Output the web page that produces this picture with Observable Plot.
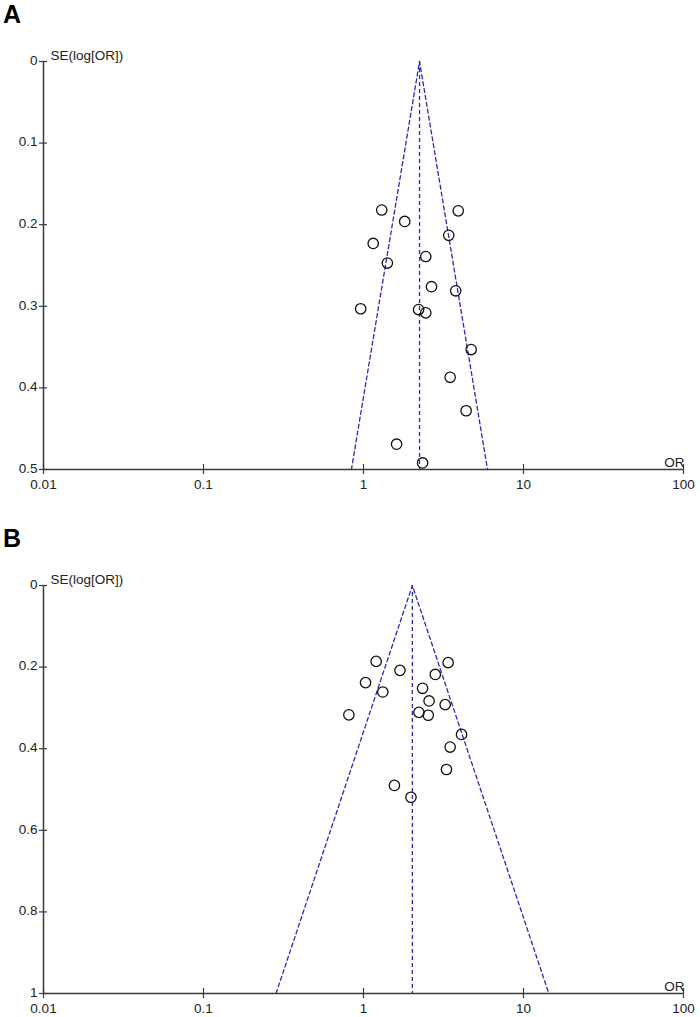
<!DOCTYPE html>
<html>
<head>
<meta charset="utf-8">
<script src="https://cdn.jsdelivr.net/npm/d3@7"></script>
<script src="https://cdn.jsdelivr.net/npm/@observablehq/plot@0.6"></script>
<style>
  html, body { margin: 0; padding: 0; background: #fff; }
  #wrap { position: relative; width: 700px; height: 1017px; font-family: "Liberation Sans", Arial, sans-serif; }
  .panel { position: absolute; left: 0; }
  .panel text { font-size: 13.5px; }
  .letter { position: absolute; left: 3px; font-weight: bold; font-size: 25px; line-height: 25px; color: #000; }
</style>
</head>
<body>
<div id="wrap"></div>
<script>
// ---- Data ----
const xTicks = [0.01, 0.1, 1, 10, 100];
const xTickLabels = ["0.01", "0.1", "1", "10", "100"];

const yTicksA = [0, 0.1, 0.2, 0.3, 0.4, 0.5];
const yTicksB = [0, 0.2, 0.4, 0.6, 0.8, 1];

// Panel A studies: odds ratio and its SE(log[OR])
const orA = [1.30, 3.91, 1.81, 3.41, 1.15, 2.45, 1.41, 2.66, 3.77, 0.96, 2.21, 2.45, 4.71, 3.48, 4.38, 1.61, 2.34];
const seA = [0.182, 0.183, 0.196, 0.213, 0.223, 0.239, 0.247, 0.276, 0.281, 0.303, 0.304, 0.308, 0.353, 0.387, 0.428, 0.469, 0.492];

// Panel B studies
const orB = [1.20, 3.38, 1.69, 2.81, 1.03, 2.34, 1.32, 2.57, 3.24, 0.81, 2.22, 2.54, 4.10, 3.48, 3.30, 1.56, 1.98];
const seB = [0.186, 0.189, 0.208, 0.218, 0.238, 0.252, 0.261, 0.283, 0.292, 0.317, 0.311, 0.318, 0.365, 0.396, 0.451, 0.490, 0.519];

// Pooled OR and funnel (pseudo 95% CI) outline: left bottom, apex, right bottom
const pooledA = 2.24;
const funnelOrA = [0.84, 2.24, 5.96];
const funnelSeA = [0.5, 0, 0.5];

const pooledB = 2.02;
const funnelOrB = [0.284, 2.02, 14.4];
const funnelSeB = [1, 0, 1];

// ---- Drawing ----
const FONT = "'Liberation Sans', Arial, sans-serif";
const AXIS = "#3a3a3a";
const BLUE = "#2a2ab4";

function panel({ors, ses, yTicks, yMax, pooled, fOr, fSe, height, marginBottom}) {
  const plotTop = 61, plotBottom = 469;
  const unitPerPx = yMax / (plotBottom - plotTop);
  const tickHalfY = 5 * unitPerPx;           // 5px in y data units
  const tickFactorX = Math.pow(10, 4 / 160);  // 4px in log-x units
  const studies = ors.map((o, i) => ({or: o, se: ses[i]}));
  const funnel = fOr.map((o, i) => ({or: o, se: fSe[i]}));
  return Plot.plot({
    width: 700,
    height,
    marginLeft: 43,
    marginRight: 17,
    marginTop: plotTop,
    marginBottom,
    style: {fontFamily: FONT, fontSize: "13.5px", color: "#222", background: "transparent", overflow: "visible"},
    x: {type: "log", domain: [0.01, 100]},
    y: {domain: [0, yMax], reverse: true},
    marks: [
      // funnel outline and pooled estimate
      Plot.line(funnel, {x: "or", y: "se", stroke: BLUE, strokeWidth: 1.3, strokeDasharray: "4,3"}),
      Plot.ruleX([pooled], {y1: 0, y2: yMax, stroke: BLUE, strokeWidth: 1.3, strokeDasharray: "4,3"}),
      // axis lines
      Plot.ruleY([yMax], {stroke: AXIS, strokeWidth: 1.5}),
      Plot.ruleX([0.01], {y1: 0, y2: yMax, stroke: AXIS, strokeWidth: 1.5}),
      // crossing tick marks
      Plot.ruleX(xTicks, {x: d => d, y1: yMax - tickHalfY, y2: yMax + tickHalfY, stroke: AXIS, strokeWidth: 1.2}),
      Plot.ruleY(yTicks, {y: d => d, x1: 0.01 / tickFactorX, x2: 0.01 * tickFactorX, stroke: AXIS, strokeWidth: 1.2}),
      // tick labels
      Plot.axisX({ticks: xTicks, tickSize: 0, tickPadding: 10, tickFormat: d => xTickLabels[xTicks.indexOf(d)], fontSize: 13.5, fill: "#222", label: null}),
      Plot.axisY({ticks: yTicks, tickSize: 0, tickPadding: 6, tickFormat: d => String(d), fontSize: 13.5, fill: "#222", label: null, dy: -1}),
      // axis titles
      Plot.text(["SE(log[OR])"], {x: 0.01, y: 0, text: d => d, dx: 7, dy: -2, textAnchor: "start", lineAnchor: "bottom", fontSize: 13.5, fill: "#222"}),
      Plot.text(["OR"], {x: 100, y: yMax, text: d => d, dx: 1, dy: -3, textAnchor: "end", lineAnchor: "bottom", fontSize: 13.5, fill: "#222"}),
      // studies
      Plot.dot(studies, {x: "or", y: "se", r: 5.2, stroke: "#111", strokeWidth: 1.3, fill: "none"})
    ]
  });
}

const wrap = document.getElementById("wrap");

const a = panel({ors: orA, ses: seA, yTicks: yTicksA, yMax: 0.5, pooled: pooledA, fOr: funnelOrA, fSe: funnelSeA, height: 524, marginBottom: 55});
a.classList.add("panel"); a.style.top = "0px";
wrap.appendChild(a);

const b = panel({ors: orB, ses: seB, yTicks: yTicksB, yMax: 1, pooled: pooledB, fOr: funnelOrB, fSe: funnelSeB, height: 493, marginBottom: 24});
b.classList.add("panel"); b.style.top = "524px";
wrap.appendChild(b);

const la = document.createElement("div");
la.className = "letter"; la.textContent = "A"; la.style.top = "2px";
wrap.appendChild(la);
const lb = document.createElement("div");
lb.className = "letter"; lb.textContent = "B"; lb.style.top = "526px";
wrap.appendChild(lb);
</script>
</body>
</html>
